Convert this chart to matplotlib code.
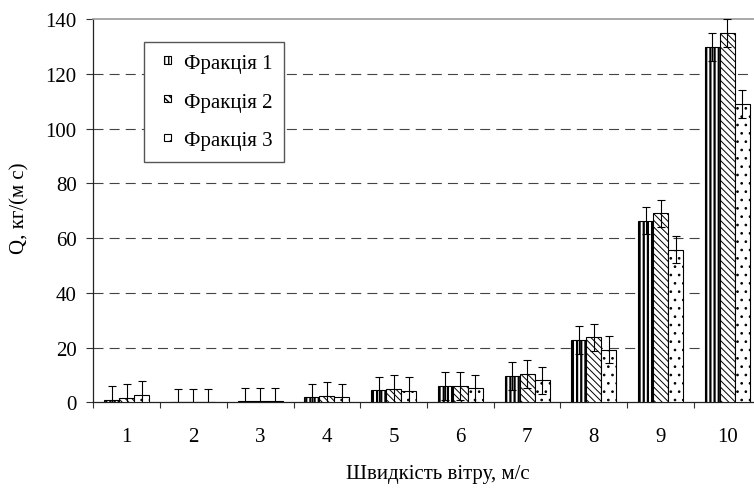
import matplotlib
matplotlib.use("Agg")
import matplotlib.pyplot as plt
import numpy as np
from matplotlib.patches import Rectangle
from matplotlib.container import BarContainer
from matplotlib.legend_handler import HandlerPatch, update_from_first_child

plt.rcParams['font.family'] = ['Liberation Serif', 'DejaVu Serif']

categories = ['1', '2', '3', '4', '5', '6', '7', '8', '9', '10']
frac1 = [0.8, 0.0, 0.4, 1.8, 4.4, 5.9, 9.6, 22.8, 66.3, 129.8]
frac2 = [1.7, 0.0, 0.4, 2.4, 4.9, 5.9, 10.3, 23.7, 69.0, 134.9]
frac3 = [2.8, 0.0, 0.4, 1.8, 4.1, 5.1, 8.0, 19.2, 55.7, 108.9]
err1 = [5, 5, 5, 5, 5, 5, 5, 5, 5, 5]
err2 = [5, 5, 5, 5, 5, 5, 5, 5, 5, 5]
err3 = [5, 5, 5, 5, 5, 5, 5, 5, 5, 5]
labels = ['Фракція 1', 'Фракція 2', 'Фракція 3']
yticks = [0, 20, 40, 60, 80, 100, 120, 140]
xlabel = 'Швидкість вітру, м/с'
ylabel = 'Q, кг/(м с)'

FS = 15
W, H = 754, 489
fig = plt.figure(figsize=(W / 100, H / 100), dpi=100)
ax = fig.add_axes([93.3 / W, 1 - 403.3 / H, (760.7 - 93.3) / W, (403.3 - 20) / H])

x = np.arange(1, len(categories) + 1)
bw = 0.225
series = [(frac1, err1, '||||', 1.6), (frac2, err2, '\\\\\\\\\\', 0.7), (frac3, err3, '..', 0.7)]
handles = []
for i, (vals, errs, hatch, hlw) in enumerate(series):
    pos = x + (i - 1) * bw
    bars = ax.bar(pos, vals, width=bw, color='white', edgecolor='black',
                  linewidth=0.8, hatch=hatch, zorder=3, label=labels[i])
    for b in bars:
        if hasattr(b, 'set_hatch_linewidth'):
            b.set_hatch_linewidth(hlw)
    handles.append(bars)
    ax.errorbar(pos, vals, yerr=errs, fmt='none', ecolor='black',
                elinewidth=0.8, capsize=2.6, capthick=0.8, zorder=4)

ax.set_xlim(0.5, len(categories) + 0.5)
ax.set_ylim(0, 140)
ax.set_yticks(yticks)
ax.set_xticks(x)
ax.set_xticklabels(categories)
ax.set_xticks(np.arange(0.5, len(categories) + 1, 1), minor=True)
ax.tick_params(axis='x', which='major', length=0, pad=18, labelsize=FS)
ax.tick_params(axis='x', which='minor', length=4.5, width=0.8, color='#333333')
ax.tick_params(axis='y', which='major', length=5, width=0.8, pad=7, labelsize=FS, color='#333333')

for yv in yticks[1:-1]:
    ax.axhline(yv, color='#444444', linewidth=0.8, linestyle=(0, (9, 5.5)), zorder=1)

ax.spines['right'].set_visible(False)
ax.spines['top'].set_color('#999999')
ax.spines['top'].set_linewidth(1.2)
ax.spines['left'].set_color('#222222')
ax.spines['bottom'].set_color('#222222')
ax.spines['left'].set_linewidth(0.9)
ax.spines['bottom'].set_linewidth(0.9)

fig.text(20 / W, 1 - 208 / H, ylabel, rotation=90, ha='center', va='center', fontsize=FS)
fig.text(438 / W, 1 - 479 / H, xlabel, ha='center', va='baseline', fontsize=FS)


def small_square(legend, orig_handle, xdescent, ydescent, width, height, fontsize):
    s = 5.3
    return Rectangle((-xdescent + width - s, -ydescent + (height - s) / 2 + 0.3), s, s)


leg = ax.legend(handles=handles, labels=labels, loc='upper left',
                bbox_to_anchor=(144 / W, 1 - 43.3 / H), bbox_transform=fig.transFigure,
                fontsize=FS, frameon=True, fancybox=False, framealpha=1,
                edgecolor='#555555', handlelength=0.75, handleheight=0.6,
                handletextpad=0.6, labelspacing=0.95, borderpad=0.55, borderaxespad=0,
                handler_map={BarContainer: HandlerPatch(patch_func=small_square,
                                                        update_func=update_from_first_child)})
leg.get_frame().set_linewidth(1.0)
leg.set_zorder(5)

fig.savefig('out.png', dpi=100)
